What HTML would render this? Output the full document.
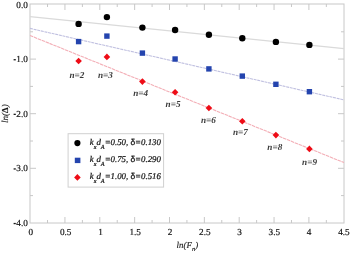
<!DOCTYPE html>
<html><head><meta charset="utf-8"><style>
html,body{margin:0;padding:0;background:#fff;}
body{width:350px;height:253px;overflow:hidden;}
svg{display:block;}
#w{width:350px;height:253px;transform:translateZ(0);}
text{font-family:"Liberation Serif",serif;text-rendering:geometricPrecision;}
.tk{font-size:9.2px;fill:#151515;stroke:#151515;stroke-width:0.2px;}
.nl{font-size:9.2px;font-style:italic;font-weight:bold;fill:#3a3a3a;}
.lg{font-size:8.8px;font-style:italic;fill:#111;stroke:#111;stroke-width:0.22px;}
.sb{font-size:6.2px;}
.sb2{font-size:6.5px;}
.dl{font-family:"Liberation Sans",sans-serif;font-style:normal;font-size:8.5px;stroke-width:0.25px;}
.at{font-size:9.5px;font-style:italic;fill:#1a1a1a;stroke:#1a1a1a;stroke-width:0.15px;}
</style></head><body><div id="w">
<svg width="350" height="253" viewBox="0 0 350 253">
<rect x="30.0" y="4.0" width="314.0" height="219.0" fill="none" stroke="#c8c8c8" stroke-width="1"/>
<line x1="47.53" y1="223.0" x2="47.53" y2="220.0" stroke="#c8c8c8" stroke-width="1"/>
<line x1="47.53" y1="4.0" x2="47.53" y2="7.0" stroke="#c8c8c8" stroke-width="1"/>
<line x1="64.95" y1="223.0" x2="64.95" y2="217.0" stroke="#c8c8c8" stroke-width="1"/>
<line x1="64.95" y1="4.0" x2="64.95" y2="10.0" stroke="#c8c8c8" stroke-width="1"/>
<line x1="82.38" y1="223.0" x2="82.38" y2="220.0" stroke="#c8c8c8" stroke-width="1"/>
<line x1="82.38" y1="4.0" x2="82.38" y2="7.0" stroke="#c8c8c8" stroke-width="1"/>
<line x1="99.80" y1="223.0" x2="99.80" y2="217.0" stroke="#c8c8c8" stroke-width="1"/>
<line x1="99.80" y1="4.0" x2="99.80" y2="10.0" stroke="#c8c8c8" stroke-width="1"/>
<line x1="117.22" y1="223.0" x2="117.22" y2="220.0" stroke="#c8c8c8" stroke-width="1"/>
<line x1="117.22" y1="4.0" x2="117.22" y2="7.0" stroke="#c8c8c8" stroke-width="1"/>
<line x1="134.65" y1="223.0" x2="134.65" y2="217.0" stroke="#c8c8c8" stroke-width="1"/>
<line x1="134.65" y1="4.0" x2="134.65" y2="10.0" stroke="#c8c8c8" stroke-width="1"/>
<line x1="152.08" y1="223.0" x2="152.08" y2="220.0" stroke="#c8c8c8" stroke-width="1"/>
<line x1="152.08" y1="4.0" x2="152.08" y2="7.0" stroke="#c8c8c8" stroke-width="1"/>
<line x1="169.50" y1="223.0" x2="169.50" y2="217.0" stroke="#c8c8c8" stroke-width="1"/>
<line x1="169.50" y1="4.0" x2="169.50" y2="10.0" stroke="#c8c8c8" stroke-width="1"/>
<line x1="186.93" y1="223.0" x2="186.93" y2="220.0" stroke="#c8c8c8" stroke-width="1"/>
<line x1="186.93" y1="4.0" x2="186.93" y2="7.0" stroke="#c8c8c8" stroke-width="1"/>
<line x1="204.35" y1="223.0" x2="204.35" y2="217.0" stroke="#c8c8c8" stroke-width="1"/>
<line x1="204.35" y1="4.0" x2="204.35" y2="10.0" stroke="#c8c8c8" stroke-width="1"/>
<line x1="221.78" y1="223.0" x2="221.78" y2="220.0" stroke="#c8c8c8" stroke-width="1"/>
<line x1="221.78" y1="4.0" x2="221.78" y2="7.0" stroke="#c8c8c8" stroke-width="1"/>
<line x1="239.20" y1="223.0" x2="239.20" y2="217.0" stroke="#c8c8c8" stroke-width="1"/>
<line x1="239.20" y1="4.0" x2="239.20" y2="10.0" stroke="#c8c8c8" stroke-width="1"/>
<line x1="256.62" y1="223.0" x2="256.62" y2="220.0" stroke="#c8c8c8" stroke-width="1"/>
<line x1="256.62" y1="4.0" x2="256.62" y2="7.0" stroke="#c8c8c8" stroke-width="1"/>
<line x1="274.05" y1="223.0" x2="274.05" y2="217.0" stroke="#c8c8c8" stroke-width="1"/>
<line x1="274.05" y1="4.0" x2="274.05" y2="10.0" stroke="#c8c8c8" stroke-width="1"/>
<line x1="291.48" y1="223.0" x2="291.48" y2="220.0" stroke="#c8c8c8" stroke-width="1"/>
<line x1="291.48" y1="4.0" x2="291.48" y2="7.0" stroke="#c8c8c8" stroke-width="1"/>
<line x1="308.90" y1="223.0" x2="308.90" y2="217.0" stroke="#c8c8c8" stroke-width="1"/>
<line x1="308.90" y1="4.0" x2="308.90" y2="10.0" stroke="#c8c8c8" stroke-width="1"/>
<line x1="326.33" y1="223.0" x2="326.33" y2="220.0" stroke="#c8c8c8" stroke-width="1"/>
<line x1="326.33" y1="4.0" x2="326.33" y2="7.0" stroke="#c8c8c8" stroke-width="1"/>
<line x1="30.0" y1="31.80" x2="33.0" y2="31.80" stroke="#c8c8c8" stroke-width="1"/>
<line x1="344.0" y1="31.80" x2="341.0" y2="31.80" stroke="#c8c8c8" stroke-width="1"/>
<line x1="30.0" y1="59.10" x2="36.0" y2="59.10" stroke="#c8c8c8" stroke-width="1"/>
<line x1="344.0" y1="59.10" x2="338.0" y2="59.10" stroke="#c8c8c8" stroke-width="1"/>
<line x1="30.0" y1="86.40" x2="33.0" y2="86.40" stroke="#c8c8c8" stroke-width="1"/>
<line x1="344.0" y1="86.40" x2="341.0" y2="86.40" stroke="#c8c8c8" stroke-width="1"/>
<line x1="30.0" y1="113.70" x2="36.0" y2="113.70" stroke="#c8c8c8" stroke-width="1"/>
<line x1="344.0" y1="113.70" x2="338.0" y2="113.70" stroke="#c8c8c8" stroke-width="1"/>
<line x1="30.0" y1="141.00" x2="33.0" y2="141.00" stroke="#c8c8c8" stroke-width="1"/>
<line x1="344.0" y1="141.00" x2="341.0" y2="141.00" stroke="#c8c8c8" stroke-width="1"/>
<line x1="30.0" y1="168.30" x2="36.0" y2="168.30" stroke="#c8c8c8" stroke-width="1"/>
<line x1="344.0" y1="168.30" x2="338.0" y2="168.30" stroke="#c8c8c8" stroke-width="1"/>
<line x1="30.0" y1="195.60" x2="33.0" y2="195.60" stroke="#c8c8c8" stroke-width="1"/>
<line x1="344.0" y1="195.60" x2="341.0" y2="195.60" stroke="#c8c8c8" stroke-width="1"/>
<text x="30.90" y="235.0" class="tk" text-anchor="middle">0</text>
<text x="65.67" y="235.0" class="tk" text-anchor="middle">0.5</text>
<text x="100.45" y="235.0" class="tk" text-anchor="middle">1</text>
<text x="135.22" y="235.0" class="tk" text-anchor="middle">1.5</text>
<text x="170.00" y="235.0" class="tk" text-anchor="middle">2</text>
<text x="204.78" y="235.0" class="tk" text-anchor="middle">2.5</text>
<text x="239.55" y="235.0" class="tk" text-anchor="middle">3</text>
<text x="274.32" y="235.0" class="tk" text-anchor="middle">3.5</text>
<text x="309.10" y="235.0" class="tk" text-anchor="middle">4</text>
<text x="343.87" y="235.0" class="tk" text-anchor="middle">4.5</text>
<text x="27.8" y="7.50" class="tk" text-anchor="end">0.0</text>
<text x="27.8" y="62.10" class="tk" text-anchor="end">1.0</text>
<rect x="13.6" y="59.10" width="2.2" height="1.3" fill="#1a1a1a"/>
<text x="27.8" y="116.70" class="tk" text-anchor="end">2.0</text>
<rect x="13.6" y="113.70" width="2.2" height="1.3" fill="#1a1a1a"/>
<text x="27.8" y="171.30" class="tk" text-anchor="end">3.0</text>
<rect x="13.6" y="168.30" width="2.2" height="1.3" fill="#1a1a1a"/>
<text x="27.8" y="225.90" class="tk" text-anchor="end">4.0</text>
<rect x="13.6" y="222.90" width="2.2" height="1.3" fill="#1a1a1a"/>
<line x1="30.0" y1="16.7" x2="344.0" y2="48.7" stroke="#dadada" stroke-width="1.25"/>
<line x1="30.0" y1="28.4" x2="344.0" y2="99.9" stroke="#c0c0e0" stroke-width="1.1" stroke-dasharray="3 0.7"/>
<line x1="30.0" y1="35.5" x2="344.0" y2="162.6" stroke="#f3aeb6" stroke-width="1.1" stroke-dasharray="3.5 0.7"/>
<circle cx="78.6" cy="23.9" r="3.2" fill="#000"/>
<circle cx="106.9" cy="17.1" r="3.2" fill="#000"/>
<circle cx="142.4" cy="27.6" r="3.2" fill="#000"/>
<circle cx="175.1" cy="30.0" r="3.2" fill="#000"/>
<circle cx="208.9" cy="34.7" r="3.2" fill="#000"/>
<circle cx="242.3" cy="38.3" r="3.2" fill="#000"/>
<circle cx="275.9" cy="41.9" r="3.2" fill="#000"/>
<circle cx="309.4" cy="44.9" r="3.2" fill="#000"/>
<rect x="75.90" y="38.90" width="5.4" height="5.4" fill="#2444ae"/>
<rect x="104.20" y="33.40" width="5.4" height="5.4" fill="#2444ae"/>
<rect x="139.70" y="50.40" width="5.4" height="5.4" fill="#2444ae"/>
<rect x="172.40" y="56.30" width="5.4" height="5.4" fill="#2444ae"/>
<rect x="206.20" y="66.20" width="5.4" height="5.4" fill="#2444ae"/>
<rect x="239.60" y="73.40" width="5.4" height="5.4" fill="#2444ae"/>
<rect x="273.20" y="81.60" width="5.4" height="5.4" fill="#2444ae"/>
<rect x="306.70" y="89.00" width="5.4" height="5.4" fill="#2444ae"/>
<path d="M78.60 57.70L81.90 61.00L78.60 64.30L75.30 61.00Z" fill="#ee0c16"/>
<path d="M106.90 53.60L110.20 56.90L106.90 60.20L103.60 56.90Z" fill="#ee0c16"/>
<path d="M142.40 78.30L145.70 81.60L142.40 84.90L139.10 81.60Z" fill="#ee0c16"/>
<path d="M175.10 88.90L178.40 92.20L175.10 95.50L171.80 92.20Z" fill="#ee0c16"/>
<path d="M208.90 104.70L212.20 108.00L208.90 111.30L205.60 108.00Z" fill="#ee0c16"/>
<path d="M242.30 118.00L245.60 121.30L242.30 124.60L239.00 121.30Z" fill="#ee0c16"/>
<path d="M275.90 131.80L279.20 135.10L275.90 138.40L272.60 135.10Z" fill="#ee0c16"/>
<path d="M309.40 145.60L312.70 148.90L309.40 152.20L306.10 148.90Z" fill="#ee0c16"/>
<text x="69.4" y="77.7" class="nl">n=<tspan>2</tspan></text>
<text x="98" y="77.7" class="nl">n=<tspan>3</tspan></text>
<text x="133.2" y="96.2" class="nl">n=<tspan>4</tspan></text>
<text x="165.6" y="107.0" class="nl">n=<tspan>5</tspan></text>
<text x="201" y="123.2" class="nl">n=<tspan>6</tspan></text>
<text x="233" y="134.6" class="nl">n=<tspan>7</tspan></text>
<text x="267.3" y="149.6" class="nl">n=<tspan>8</tspan></text>
<text x="302.1" y="165.3" class="nl">n=<tspan>9</tspan></text>
<rect x="68.1" y="133.7" width="95.5" height="53.4" fill="#fff" stroke="#d0d0d0" stroke-width="1"/>
<circle cx="77.4" cy="143.1" r="3.1" fill="#000"/>
<rect x="74.8" y="157.7" width="5.6" height="5.4" fill="#2444ae"/>
<path d="M77.4 174.1L80.7 177.4L77.4 180.7L74.1 177.4Z" fill="#ee0c16"/>
<text x="89.8" y="145.2" class="lg">k<tspan class="sb" dy="3.9">x</tspan><tspan dy="-3.9">d</tspan><tspan class="sb" dy="3.9">A</tspan><tspan dy="-3.9">=0.50, </tspan><tspan class="dl">δ</tspan>=0.130</text>
<text x="89.8" y="162.2" class="lg">k<tspan class="sb" dy="3.9">x</tspan><tspan dy="-3.9">d</tspan><tspan class="sb" dy="3.9">A</tspan><tspan dy="-3.9">=0.75, </tspan><tspan class="dl">δ</tspan>=0.290</text>
<text x="89.8" y="179.0" class="lg">k<tspan class="sb" dy="3.9">x</tspan><tspan dy="-3.9">d</tspan><tspan class="sb" dy="3.9">A</tspan><tspan dy="-3.9">=1.00, </tspan><tspan class="dl">δ</tspan>=0.516</text>
<text x="176.6" y="248" class="at" style="font-size:8.9px">ln(F<tspan class="sb2" dy="2.6">n</tspan><tspan dy="-2.6">)</tspan></text>
<text transform="translate(7.6,113.6) rotate(-90)" class="at" text-anchor="middle" style="font-size:9.1px">ln(<tspan font-style="normal" font-weight="bold">Δ</tspan>)</text>
</svg></div>
</body></html>
